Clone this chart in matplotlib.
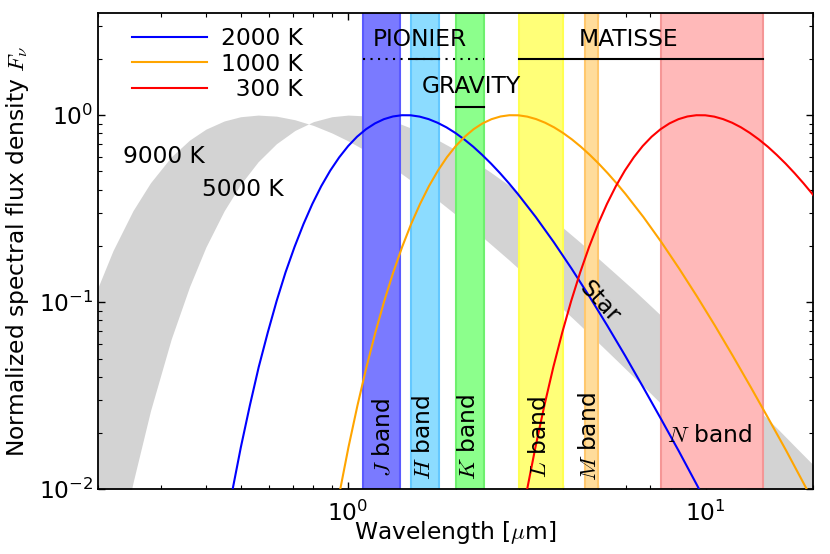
import matplotlib
matplotlib.use("Agg")
import matplotlib.pyplot as plt

plt.rcParams['font.family'] = ['DejaVu Sans']
plt.rcParams['mathtext.fontset'] = 'cm'
plt.rcParams['axes.unicode_minus'] = False
plt.rcParams['font.size'] = 16.8

# blackbody curves (normalized to their peak)
wl_2000 = [0.473, 0.501, 0.531, 0.562, 0.596, 0.631, 0.668, 0.708, 0.750,
           0.794, 0.841, 0.891, 0.944, 1.000, 1.059, 1.122, 1.189, 1.259,
           1.334, 1.413, 1.496, 1.585, 1.679, 1.778, 1.884, 1.995, 2.113,
           2.239, 2.371, 2.512, 2.661, 2.818, 2.985, 3.350, 3.758, 4.217,
           4.732, 5.309, 5.957, 6.683, 7.499, 8.414, 9.441, 10.59, 11.89]
wl_1000 = [0.946, 1.002, 1.062, 1.125, 1.192, 1.262, 1.337, 1.416, 1.500,
           1.589, 1.683, 1.783, 1.888, 2.000, 2.119, 2.244, 2.377, 2.518,
           2.668, 2.825, 2.993, 3.170, 3.357, 3.557, 3.768, 3.991, 4.227,
           4.477, 4.743, 5.024, 5.322, 5.637, 5.971, 6.701, 7.516, 8.433,
           9.463, 10.62, 11.91, 13.37, 15.00, 16.83, 18.88, 21.19, 23.77]
wl_300 = [3.153, 3.341, 3.540, 3.749, 3.972, 4.207, 4.457, 4.721, 5.001,
          5.296, 5.610, 5.943, 6.295, 6.667, 7.062, 7.481, 7.925, 8.395,
          8.893, 9.420, 9.978, 10.57, 11.19, 11.86, 12.56, 13.30, 14.09,
          14.93, 15.81, 16.75, 17.74, 18.79, 19.90, 22.33]
f_2000 = [0.00956, 0.01677, 0.02808, 0.04493, 0.06894, 0.1016, 0.1442, 0.1974,
          0.2614, 0.3350, 0.4172, 0.5048, 0.5945, 0.6832, 0.7663, 0.8407,
          0.9031, 0.9510, 0.9831, 0.9984, 0.9976, 0.9814, 0.9517, 0.9103,
          0.8600, 0.8027, 0.7412, 0.6773, 0.6128, 0.5498, 0.4890, 0.4317,
          0.3784, 0.2849, 0.2097, 0.1512, 0.1072, 0.0749, 0.0517, 0.0352,
          0.0238, 0.0160, 0.0106, 0.0070, 0.0046]
f_1000 = [0.00956, 0.01677, 0.02808, 0.04493, 0.06894, 0.1016, 0.1442, 0.1974,
          0.2614, 0.3350, 0.4172, 0.5048, 0.5945, 0.6832, 0.7663, 0.8407,
          0.9031, 0.9510, 0.9831, 0.9984, 0.9976, 0.9814, 0.9517, 0.9103,
          0.8600, 0.8027, 0.7412, 0.6773, 0.6128, 0.5498, 0.4890, 0.4317,
          0.3784, 0.2849, 0.2097, 0.1512, 0.1072, 0.0749, 0.0517, 0.0352,
          0.0238, 0.0160, 0.0106, 0.0070, 0.0046]
f_300 = [0.00956, 0.01677, 0.02808, 0.04493, 0.06894, 0.1016, 0.1442, 0.1974,
         0.2614, 0.3350, 0.4172, 0.5048, 0.5945, 0.6832, 0.7663, 0.8407,
         0.9031, 0.9510, 0.9831, 0.9984, 0.9976, 0.9814, 0.9517, 0.9103,
         0.8600, 0.8027, 0.7412, 0.6773, 0.6128, 0.5498, 0.4890, 0.4317,
         0.3784, 0.2849]

# stellar band, edges at 9000 K and 5000 K
wl_star = [0.20, 0.22, 0.25, 0.28, 0.32, 0.36, 0.40, 0.45, 0.50, 0.56, 0.63,
           0.71, 0.80, 0.90, 1.00, 1.12, 1.25, 1.40, 1.60, 1.80, 2.00, 2.24,
           2.50, 2.82, 3.20, 3.55, 4.00, 4.47, 5.00, 5.62, 6.30, 7.08, 8.00,
           8.91, 10.0, 11.2, 12.5, 14.1, 16.0, 17.8, 20.0]
f_9000 = [0.121, 0.189, 0.308, 0.435, 0.598, 0.735, 0.841, 0.930, 0.980, 1.000,
          0.987, 0.944, 0.880, 0.803, 0.728, 0.646, 0.568, 0.491, 0.409, 0.345,
          0.294, 0.2456, 0.205, 0.168, 0.135, 0.1130, 0.0914, 0.0749, 0.0610,
          0.0492, 0.0398, 0.0320, 0.0254, 0.0207, 0.0166, 0.0133, 0.0108,
          0.0085, 0.0067, 0.0054, 0.0043]
f_5000 = [0.0012, 0.0033, 0.0108, 0.0263, 0.0636, 0.121, 0.197, 0.308, 0.426,
          0.563, 0.703, 0.828, 0.923, 0.980, 1.000, 0.990, 0.954, 0.897, 0.812,
          0.728, 0.652, 0.571, 0.496, 0.421, 0.351, 0.300, 0.249, 0.208, 0.172,
          0.141, 0.116, 0.0942, 0.0756, 0.0622, 0.0503, 0.0407, 0.0332, 0.0264,
          0.0208, 0.0169, 0.0135]

band_names = ['J', 'H', 'K', 'L', 'M', 'N']
band_lo = [1.1, 1.5, 2.0, 3.0, 4.6, 7.5]
band_hi = [1.4, 1.8, 2.4, 4.0, 5.0, 14.5]
band_label_x = [1.25, 1.62, 2.17, 3.43, 4.72, 10.26]
band_face = ['#7a7aff', '#8cdcff', '#8cff8c', '#ffff78', '#ffdc9b', '#ffb9b9']
band_edge = ['#5a5aff', '#64c8ff', '#6ef06e', '#ffff50', '#ffc86e', '#f59696']

fig = plt.figure(figsize=(8.3, 5.54), dpi=100)
ax = fig.add_axes([0.1184, 0.1168, 0.8614, 0.8592])

ax.fill_between(wl_star, f_9000, f_5000, color='lightgray', lw=0, zorder=1)

for lo, hi, fc, ec in zip(band_lo, band_hi, band_face, band_edge):
    ax.axvspan(lo, hi, facecolor=fc, edgecolor=ec, lw=1.5, zorder=2)

ax.plot(wl_2000, f_2000, color='blue', lw=1.5, label='2000 K', zorder=3)
ax.plot(wl_1000, f_1000, color='orange', lw=1.5, label='1000 K', zorder=3)
ax.plot(wl_300, f_300, color='red', lw=1.5, label='  300 K', zorder=3)

# band labels
for name, x in zip(band_names, band_label_x):
    if name == 'N':
        ax.text(x, 0.0195, '$N$ band', ha='center', va='center', zorder=4)
    else:
        ax.text(x, 0.019, '$%s$ band' % name, rotation=90,
                ha='center', va='center', zorder=4)

# instruments
ax.plot([1.1, 2.4], [2.0, 2.0], color='black', lw=1.5,
        linestyle=(0, (1, 2.6)), zorder=4)
ax.plot([1.5, 1.8], [2.0, 2.0], color='black', lw=1.5, zorder=4)
ax.text(1.584, 2.54, 'PIONIER', ha='center', va='center')
ax.plot([2.0, 2.4], [1.1, 1.1], color='black', lw=1.5, zorder=4)
ax.text(2.213, 1.43, 'GRAVITY', ha='center', va='center')
ax.plot([3.0, 14.5], [2.0, 2.0], color='black', lw=1.5, zorder=4)
ax.text(6.08, 2.54, 'MATISSE', ha='center', va='center')

ax.text(0.234, 0.599, '9000 K', ha='left', va='center')
ax.text(0.389, 0.401, '5000 K', ha='left', va='center')
ax.text(5.05, 0.100, 'Star', rotation=-47, ha='center', va='center',
        rotation_mode='anchor', zorder=4)

ax.set_xscale('log')
ax.set_yscale('log')
ax.set_xlim(0.2, 20)
ax.set_ylim(0.01, 3.5)
ax.set_xlabel(r'Wavelength [$\mu$m]', labelpad=-5)
ax.set_ylabel(r'Normalized spectral flux density $F_\nu$', labelpad=6)
ax.tick_params(which='both', direction='in', top=True, right=True)
ax.tick_params(which='major', length=5, width=1)
ax.tick_params(which='minor', length=3, width=0.8)
ax.tick_params(axis='x', which='major', pad=8)
for s in ax.spines.values():
    s.set_linewidth(1.3)

ax.legend(loc='upper left', frameon=False, handlelength=3.2,
          handletextpad=0.6, labelspacing=0.12, borderaxespad=0.3,
          bbox_to_anchor=(0.025, 1.006))

fig.savefig('out.png', dpi=100)
